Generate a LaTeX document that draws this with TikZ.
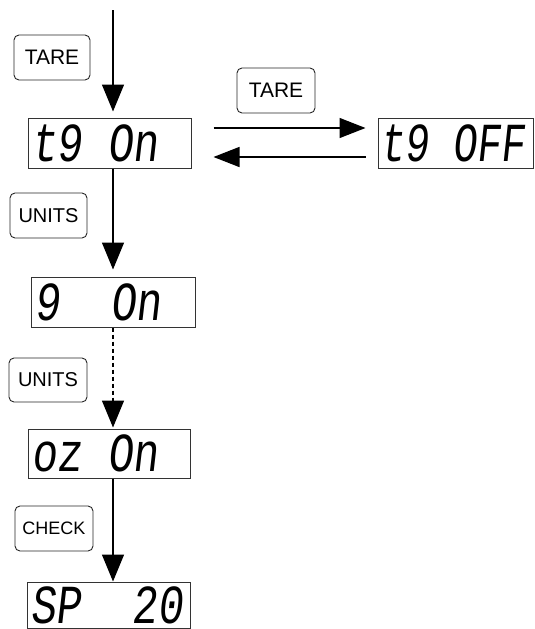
\documentclass[tikz,border=0pt]{standalone}
\usepackage{fontspec}
\setmainfont{Liberation Sans}
\newfontfamily\lcdfont[FakeSlant=0.15]{Liberation Mono}
\usetikzlibrary{arrows.meta}
\newcommand\lcdtxt[2][0.77]{\scalebox{#1}[1]{\lcdfont\fontsize{55}{60}\selectfont #2}}
\newcommand\lcdsp{\kern0.6em}
\begin{document}
\begin{tikzpicture}[x=1pt,y=-1pt,
  btn/.style={draw=black!85, line width=0.9pt, rounded corners=5pt,
    minimum width=77pt, minimum height=45pt, inner sep=0pt,
    font=\fontsize{20}{24}\selectfont},
  lcd/.style={draw=black!80, line width=1pt, minimum height=50pt,
    inner xsep=3pt, inner ysep=0pt, align=left},
  arr/.style={draw=black, line width=1.4pt, -{Triangle[width=22pt,length=27pt]}},
  harr/.style={draw=black, line width=1.4pt, -{Triangle[width=20pt,length=26pt]}},
]
\clip (0,0) rectangle (535,629);

% displays
\node[lcd, text width=157pt] (D1) at (109.5,143) {\lcdtxt{t9\lcdsp On}};
\node[lcd, text width=151pt, inner xsep=2pt] (D2) at (455.5,143) {\lcdtxt[0.73]{t9\lcdsp OFF}};
\node[lcd, text width=158pt] (D3) at (113,302) {\lcdtxt{9\lcdsp\lcdsp On}};
\node[lcd, text width=156pt, minimum height=49pt] (D4) at (109,453.5) {\lcdtxt{oz\lcdsp On}};
\node[lcd, text width=157pt, minimum height=46pt] (D5) at (108.5,605) {\lcdtxt{SP\lcdsp\lcdsp 20}};

% buttons
\node[btn, minimum width=76pt, font=\fontsize{21}{24}\selectfont] (T1) at (52,57.5) {TARE};
\node[btn, minimum width=78pt, font=\fontsize{21}{24}\selectfont] (T2) at (276,90.5) {TARE};
\node[btn] (U1) at (48.5,215.5) {UNITS};
\node[btn, minimum width=78pt, minimum height=44pt] (U2) at (48,380) {UNITS};
\node[btn, minimum width=78pt, font=\fontsize{18}{22}\selectfont] (C1) at (54,528.5) {CHECK};

% connectors
\coordinate (top) at (113,10);
\draw[arr, shorten >=6pt] (top) -- (top |- D1.north);
\draw[arr, shorten >=7pt] (top |- D1.south) -- (top |- D3.north);
\draw[arr, dash pattern=on 4pt off 3pt, shorten >=1pt] (top |- D3.south) -- (top |- D4.north);
\draw[arr] (top |- D4.south) -- (top |- D5.north);
\draw[harr, shorten <=22pt, shorten >=12pt] ([yshift=15pt]D1.east) -- ([yshift=15pt]D2.west);
\draw[harr, shorten <=12pt, shorten >=22pt] ([yshift=-14pt]D2.west) -- ([yshift=-14pt]D1.east);
\end{tikzpicture}
\end{document}
